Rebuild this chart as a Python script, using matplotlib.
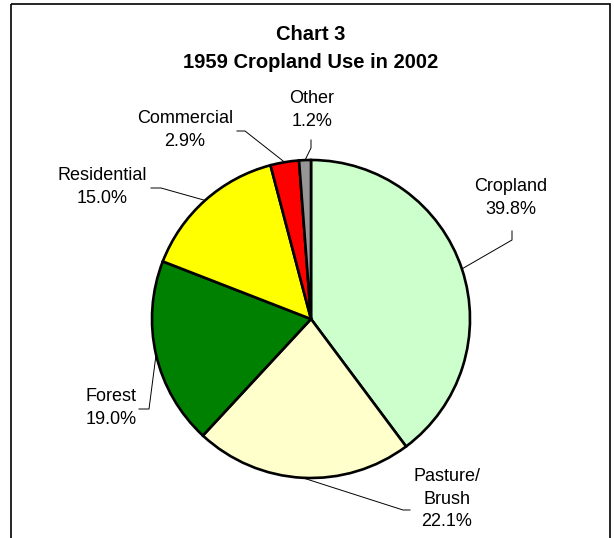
"""Pie chart: 1959 cropland use in 2002"""

import matplotlib.pyplot as plt
import numpy as np
from matplotlib.patches import Rectangle

plt.rcParams['font.family'] = ['Liberation Sans', 'DejaVu Sans']

# data
categories = ["Cropland", "Pasture/\nBrush", "Forest", "Residential", "Commercial", "Other"]
shares = [39.8, 22.1, 19.0, 15.0, 2.9, 1.2]
colors = ["#CCFFCC", "#FFFFCC", "#008000", "#FFFF00", "#FF0000", "#969696"]

# layout in pixels (figure is 614 x 538, y measured from the top)
W, H = 614, 538
center = (311, 319)
radius = 159
# label centre, leader elbow, leader end for each slice
label_pos = [(511, 198), (447, 499), (111, 408), (102, 187), (185, 130), (312, 110)]
elbows = [(512, 240), (403, 510), (149, 409), (161, 188), (245, 131), (311, 148)]
ends = [(512, 231), (410, 510), (139, 409), (151, 188), (237, 131), (311, 140)]

fig = plt.figure(figsize=(W / 100, H / 100), dpi=100)
ax = fig.add_axes([0, 0, 1, 1])

# chart border (bottom edge runs off the picture)
ax.add_patch(Rectangle((11, 4), 599, 560, fill=False, edgecolor='black', lw=1.2, clip_on=False))

# y axis is inverted, so start at -90 and go "counterclockwise" to look clockwise from the top
wedges, _ = ax.pie(shares, colors=colors, center=center, radius=radius,
                   startangle=-90, counterclock=True, frame=True,
                   wedgeprops=dict(edgecolor='black', linewidth=1.9))
ax.set_xlim(0, W)
ax.set_ylim(H, 0)
ax.set_aspect('equal')
ax.axis('off')

for w, name, share, lp, el, en in zip(wedges, categories, shares, label_pos, elbows, ends):
    mid = np.deg2rad((w.theta1 + w.theta2) / 2)
    anchor = (center[0] + radius * np.cos(mid), center[1] + radius * np.sin(mid))
    ax.plot([anchor[0], el[0], en[0]], [anchor[1], el[1], en[1]], color='black', lw=0.7)
    ax.text(lp[0], lp[1], f"{name}\n{share:.1f}%", ha='center', va='center',
            fontsize=13, linespacing=1.45, color='black')

ax.text(311, 35, "Chart 3", ha='center', va='center', fontsize=14.5, fontweight='bold')
ax.text(311, 62, "1959 Cropland Use in 2002", ha='center', va='center', fontsize=14.5, fontweight='bold')

plt.savefig("out.png", dpi=100)
